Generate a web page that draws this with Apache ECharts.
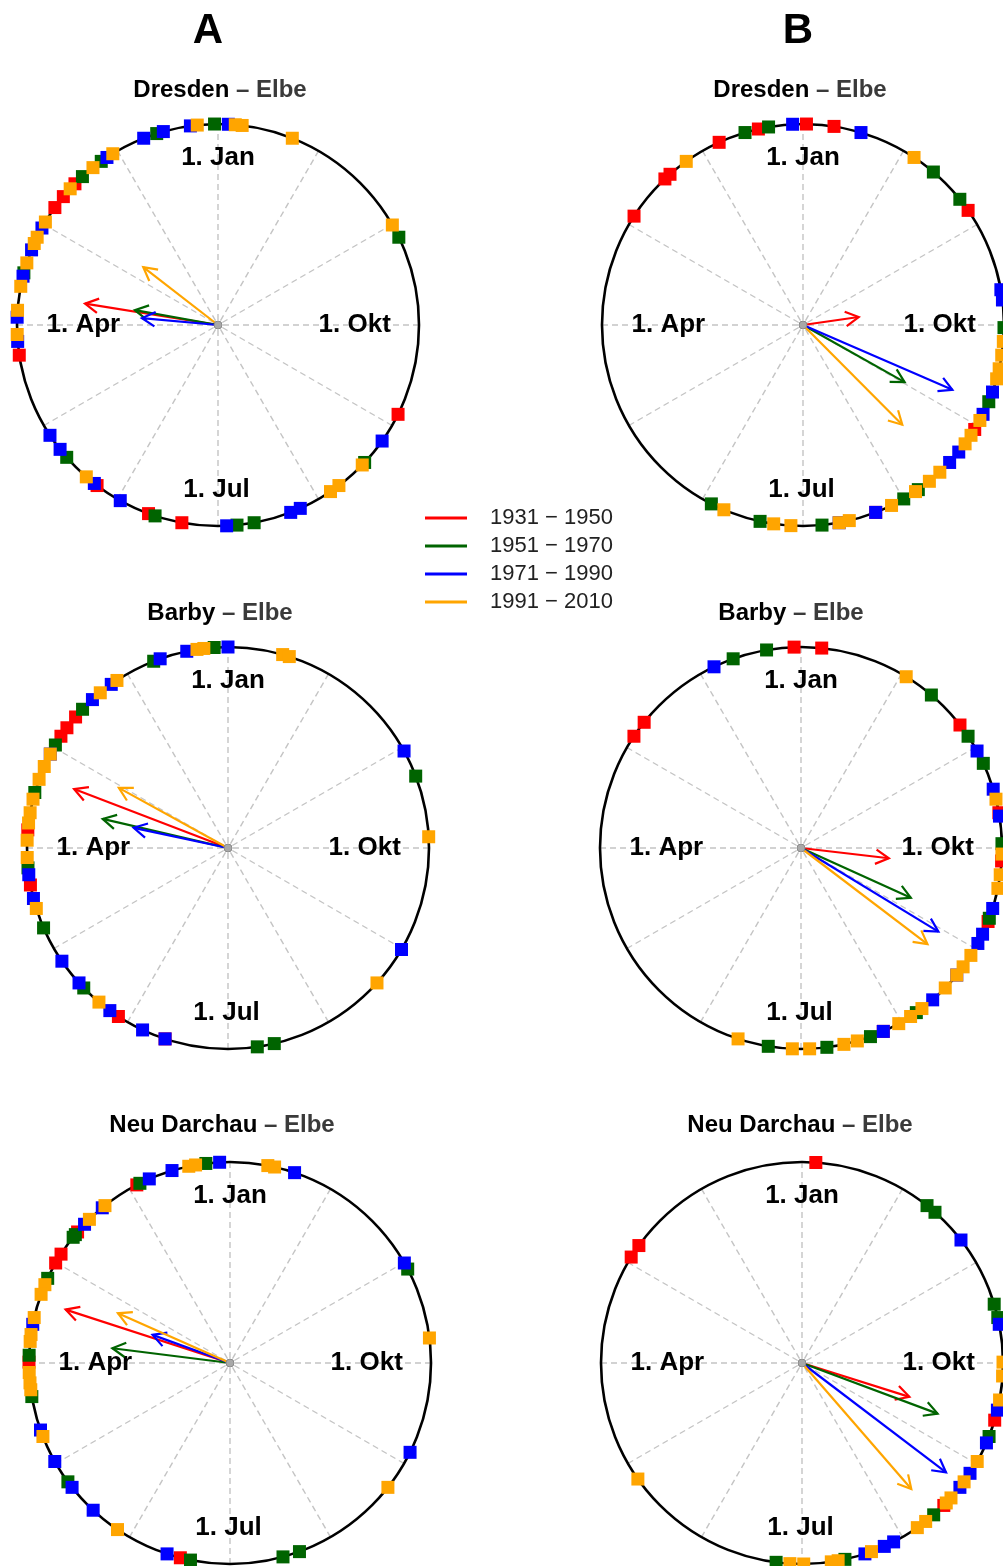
<!DOCTYPE html>
<html lang="de">
<head>
    <meta charset="UTF-8">
    <title>Hochwassertermine Elbe</title>
    <style>
        body { margin: 0; background: #fff; }
    </style>
</head>
<body>
<div id="main" style="width: 1003px;height:1566px;"></div>
<script type="text/javascript" src="https://cdn.jsdelivr.net/npm/echarts@6/dist/echarts.min.js"></script>
<script type="text/javascript">

    // periods and colours
    var periods = ['1931 − 1950', '1951 − 1970', '1971 − 1990', '1991 − 2010'];
    var colors = ['#ff0000', '#006400', '#0000ff', '#ffa500'];

    // month labels (day of year, Jan 1 = 0)
    var monthNames = ['1. Jan', '1. Apr', '1. Jul', '1. Okt'];
    var monthDays = [0, 91, 182, 274];

    // flood dates, day of year -- column A
    var dresdenA_1931 = [46, 51, 55, 100, 145, 162, 172, 247];
    var dresdenA_1951 = [1, 18, 36, 43, 76, 133, 164, 188, 193, 230, 300];
    var dresdenA_1971 = [8, 16, 22, 34, 62, 69, 77, 89, 96, 125, 130, 144, 153, 185, 204, 207, 238, 362];
    var dresdenA_1991 = [6, 358, 360, 343, 32, 39, 48, 60, 65, 67, 73, 80, 87, 94, 141, 217, 220, 229, 304];

    var barbyA_1931 = [50, 54, 57, 86, 102, 149, 164];
    var barbyA_1951 = [4, 22, 47, 60, 75, 97, 115, 136, 191, 196, 295];
    var barbyA_1971 = [0, 12, 20, 36, 43, 63, 99, 106, 126, 134, 146, 157, 164, 303, 243];
    var barbyA_1991 = [9, 7, 349, 347, 34, 40, 63, 67, 71, 77, 81, 84, 89, 94, 109, 142, 277, 231];

    var darchauA_1931 = [28, 50, 58, 61, 91, 168];
    var darchauA_1951 = [7, 27, 51, 52, 66, 89, 101, 128, 171, 198, 203, 302];
    var darchauA_1971 = [3, 17, 24, 40, 47, 80, 111, 121, 130, 139, 164, 346, 304, 247];
    var darchauA_1991 = [12, 10, 354, 352, 39, 45, 68, 71, 78, 83, 85, 94, 97, 99, 113, 148, 281, 235];

    // flood dates, day of year -- column B
    var dresdenB_1931 = [364, 356, 13, 25, 42, 44, 58, 309, 242, 204];
    var dresdenB_1951 = [10, 17, 324, 313, 273, 251, 218, 213, 188, 170, 155];
    var dresdenB_1971 = [3, 348, 284, 281, 254, 247, 234, 230, 204, 193];
    var dresdenB_1991 = [36, 331, 269, 265, 261, 258, 245, 240, 237, 226, 222, 217, 209, 196, 193, 179, 174, 159];

    var barbyB_1931 = [2, 359, 52, 57, 312, 284, 270, 252, 207];
    var barbyB_1951 = [10, 20, 324, 308, 299, 275, 253, 218, 203, 190, 173];
    var barbyB_1971 = [26, 303, 291, 283, 256, 248, 245, 234, 224, 207];
    var barbyB_1991 = [333, 288, 272, 266, 262, 241, 237, 234, 229, 220, 216, 212, 199, 195, 185, 180, 164];

    var darchauB_1931 = [361, 55, 59, 257, 228];
    var darchauB_1951 = [326, 323, 291, 287, 252, 224, 195, 175];
    var darchauB_1971 = [312, 285, 260, 250, 240, 235, 210, 207, 201];
    var darchauB_1991 = [274, 270, 263, 244, 237, 231, 229, 221, 218, 203, 193, 191, 183, 179, 127];

    // mean direction (day of year) and resultant length per period
    var dresdenA_meanDay = [82, 81, 86, 53];
    var dresdenA_rLen = [0.67, 0.42, 0.38, 0.47];
    var barbyA_meanDay = [70, 78, 79, 62];
    var barbyA_rLen = [0.82, 0.64, 0.48, 0.62];
    var darchauA_meanDay = [73, 84, 71, 67];
    var darchauA_rLen = [0.86, 0.59, 0.41, 0.61];
    var dresdenB_meanDay = [282, 244, 250, 228];
    var dresdenB_rLen = [0.28, 0.58, 0.81, 0.70];
    var barbyB_meanDay = [267, 249, 242, 236];
    var barbyB_rLen = [0.44, 0.60, 0.80, 0.79];
    var darchauB_meanDay = [256, 253, 236, 224];
    var darchauB_rLen = [0.56, 0.72, 0.90, 0.83];

    // layout of the six circles
    var R = 201;
    var monthLabelR = [0.83, 0.67, 0.82, 0.68];
    var font = '"Liberation Sans", Arial, sans-serif';

    var panels = [
        {name: 'Dresden', cx: 218, cy: 325, tx: 220, ty: 90,
            events: [dresdenA_1931, dresdenA_1951, dresdenA_1971, dresdenA_1991], dir: dresdenA_meanDay, len: dresdenA_rLen},
        {name: 'Dresden', cx: 803, cy: 325, tx: 800, ty: 90,
            events: [dresdenB_1931, dresdenB_1951, dresdenB_1971, dresdenB_1991], dir: dresdenB_meanDay, len: dresdenB_rLen},
        {name: 'Barby', cx: 228, cy: 848, tx: 220, ty: 613,
            events: [barbyA_1931, barbyA_1951, barbyA_1971, barbyA_1991], dir: barbyA_meanDay, len: barbyA_rLen},
        {name: 'Barby', cx: 801, cy: 848, tx: 791, ty: 613,
            events: [barbyB_1931, barbyB_1951, barbyB_1971, barbyB_1991], dir: barbyB_meanDay, len: barbyB_rLen},
        {name: 'Neu Darchau', cx: 230, cy: 1363, tx: 222, ty: 1125,
            events: [darchauA_1931, darchauA_1951, darchauA_1971, darchauA_1991], dir: darchauA_meanDay, len: darchauA_rLen},
        {name: 'Neu Darchau', cx: 802, cy: 1363, tx: 800, ty: 1125,
            events: [darchauB_1931, darchauB_1951, darchauB_1971, darchauB_1991], dir: darchauB_meanDay, len: darchauB_rLen}
    ];

    function renderArrow(params, api) {
        var r = api.value(0), day = api.value(1);
        var p0 = api.coord([0, day]);
        var p1 = api.coord([r, day]);
        var dx = p1[0] - p0[0], dy = p1[1] - p0[1];
        var l = Math.sqrt(dx * dx + dy * dy) || 1;
        var bx = -dx / l, by = -dy / l;
        var head = 15, a = 0.5;
        var c = Math.cos(a), s = Math.sin(a);
        var left = [p1[0] + head * (bx * c - by * s), p1[1] + head * (bx * s + by * c)];
        var right = [p1[0] + head * (bx * c + by * s), p1[1] + head * (-bx * s + by * c)];
        var color = colors[params.dataIndex];
        return {
            type: 'group',
            children: [
                {type: 'line', shape: {x1: p0[0], y1: p0[1], x2: p1[0], y2: p1[1]},
                    style: {stroke: color, lineWidth: 2.2}},
                {type: 'polyline', shape: {points: [left, p1, right]},
                    style: {stroke: color, lineWidth: 2.2, fill: null}}
            ]
        };
    }

    var polar = [], angleAxis = [], radiusAxis = [], series = [], graphic = [];

    panels.forEach(function (p, i) {
        polar.push({center: [p.cx, p.cy], radius: R});
        angleAxis.push({
            polarIndex: i, type: 'value', min: 0, max: 365, interval: 365 / 12,
            startAngle: 90, clockwise: false,
            axisLine: {lineStyle: {color: '#000', width: 2.6}},
            axisTick: {show: false},
            axisLabel: {show: false},
            splitLine: {show: true, lineStyle: {color: '#c4c4c4', width: 1.4, type: [6, 4]}}
        });
        radiusAxis.push({
            polarIndex: i, type: 'value', min: 0, max: 1, show: false,
            axisLine: {show: false}, axisTick: {show: false}, axisLabel: {show: false}, splitLine: {show: false}
        });

        // month labels
        series.push({
            type: 'scatter', coordinateSystem: 'polar', polarIndex: i, silent: true,
            symbolSize: 1, itemStyle: {color: 'rgba(0,0,0,0)', opacity: 1},
            data: monthNames.map(function (m, j) {
                return {name: m, value: [monthLabelR[j], monthDays[j]]};
            }),
            label: {show: true, position: 'inside', formatter: '{b}', fontSize: 26, fontWeight: 'bold',
                color: '#000', fontFamily: font, opacity: 1},
            z: 1
        });

        // flood events on the circle
        p.events.forEach(function (days, k) {
            series.push({
                type: 'scatter', coordinateSystem: 'polar', polarIndex: i, name: periods[k],
                symbol: 'rect', symbolSize: 13, silent: true,
                itemStyle: {color: colors[k], opacity: 1},
                data: days.map(function (d) { return [1, d]; }),
                z: 3
            });
        });

        // mean direction arrows
        series.push({
            type: 'custom', coordinateSystem: 'polar', polarIndex: i, silent: true,
            encode: {radius: 0, angle: 1},
            data: p.dir.map(function (d, k) { return [p.len[k], d]; }),
            renderItem: renderArrow,
            z: 4
        });

        // centre point
        series.push({
            type: 'scatter', coordinateSystem: 'polar', polarIndex: i, silent: true,
            symbol: 'circle', symbolSize: 8,
            itemStyle: {color: '#a8a8a8', borderColor: '#888', borderWidth: 1, opacity: 1},
            data: [[0, 0]],
            z: 5
        });

        graphic.push({
            type: 'text', x: p.tx, y: p.ty,
            style: {
                text: '{a|' + p.name + ' }{b|– Elbe}',
                align: 'center', verticalAlign: 'middle',
                rich: {
                    a: {fontSize: 24, fontWeight: 'bold', fill: '#000', fontFamily: font},
                    b: {fontSize: 24, fontWeight: 'bold', fill: '#3a3a3a', fontFamily: font}
                }
            }
        });
    });

    graphic.push({type: 'text', x: 208, y: 31,
        style: {text: 'A', fontSize: 42, fontWeight: 'bold', fill: '#000', fontFamily: font, align: 'center', verticalAlign: 'middle'}});
    graphic.push({type: 'text', x: 798, y: 31,
        style: {text: 'B', fontSize: 42, fontWeight: 'bold', fill: '#000', fontFamily: font, align: 'center', verticalAlign: 'middle'}});

    var myChart = echarts.init(document.getElementById('main'));
    myChart.setOption({
        animation: false,
        backgroundColor: '#fff',
        legend: {
            data: periods, orient: 'vertical', left: 420, top: 502,
            icon: 'rect', itemWidth: 42, itemHeight: 3, itemGap: 6,
            selectedMode: false,
            textStyle: {fontSize: 22, color: '#222', fontFamily: font, padding: [0, 0, 0, 18]}
        },
        polar: polar,
        angleAxis: angleAxis,
        radiusAxis: radiusAxis,
        graphic: graphic,
        series: series
    });
</script>
</body>
</html>
